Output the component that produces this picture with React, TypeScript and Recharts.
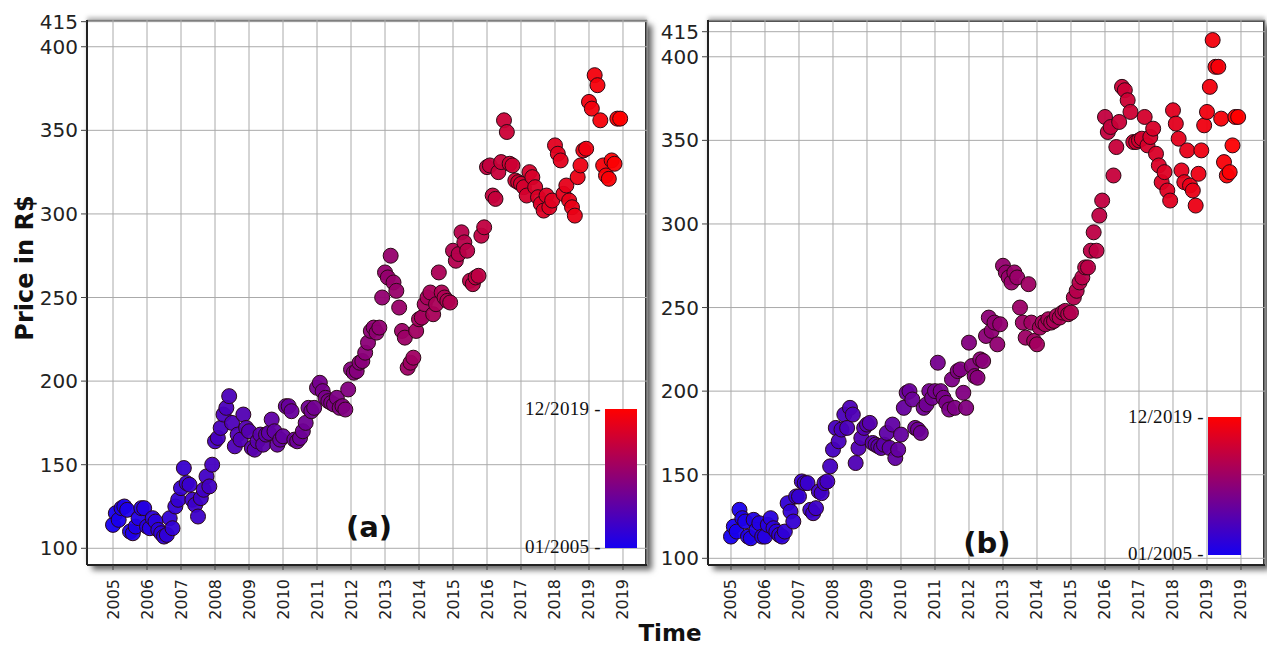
import React from "react";
import { ScatterChart, Scatter, XAxis, YAxis, CartesianGrid } from "recharts";

// Monthly prices, Jan 2005 .. Dec 2019 (one row per year)
const priceA: number[] = [
  114, 121, 117, 124, 125, 123, 110, 109, 113, 118, 124, 124,
  113, 112, 118, 116, 111, 109, 107, 108, 118, 112, 125, 129,
  136, 148, 139, 138, 129, 126, 119, 130, 135, 143, 137, 150,
  164, 166, 172, 180, 184, 191, 175, 161, 168, 165, 180, 172,
  170, 160, 159, 164, 168, 162, 168, 169, 177, 170, 162, 165,
  167, 185, 185, 182, 165, 164, 166, 170, 175, 184, 182, 184,
  196, 199, 194, 190, 188, 187, 186, 190, 184, 185, 183, 195,
  207, 205, 206, 211, 212, 217, 223, 230, 232, 229, 232, 250,
  265, 262, 275, 259, 254, 244, 230, 226, 208, 211, 214, 230,
  237, 238, 246, 250, 253, 240, 246, 265, 253, 250, 248, 247,
  278, 272, 276, 289, 283, 278, 260, 258, 262, 263, 287, 292,
  328, 329, 311, 309, 325, 331, 356, 349, 330, 329, 320, 319,
  318, 316, 311, 325, 322, 316, 310, 306, 302, 311, 304, 308,
  341, 336, 332, 312, 317, 308, 304, 299, 322, 329, 338, 339,
  367, 363, 383, 377, 356, 329, 323, 321, 332, 330, 357, 357,
];

const priceB: number[] = [
  113, 119, 116, 129, 124, 122, 113, 112, 123, 117, 121, 113,
  113, 120, 124, 118, 116, 114, 113, 116, 133, 128, 122, 137,
  137, 146, 145, 145, 129, 127, 130, 140, 139, 145, 146, 155,
  165, 178, 170, 177, 186, 178, 190, 186, 157, 166, 172, 178,
  180, 181, 169, 168, 167, 166, 168, 175, 166, 180, 160, 165,
  174, 190, 199, 200, 195, 178, 177, 175, 190, 192, 200, 196,
  200, 217, 200, 196, 193, 189, 207, 190, 212, 213, 199, 190,
  229, 215, 209, 208, 219, 218, 233, 244, 236, 241, 228, 240,
  275, 271, 268, 265, 271, 268, 250, 241, 232, 264, 241, 230,
  228, 238, 241, 240, 243, 241, 242, 245, 244, 247, 248, 246,
  247, 256, 260, 265, 268, 274, 274, 284, 295, 284, 305, 314,
  364, 355, 358, 329, 346, 361, 382, 380, 374, 367, 349, 349,
  350, 351, 364, 347, 352, 357, 342, 335, 325, 331, 320, 314,
  368, 360, 351, 332, 325, 344, 323, 320, 311, 330, 344, 359,
  367, 382, 410, 394, 394, 363, 337, 329, 331, 347, 364, 364,
];

const startYear = 2005;
const xTicks: number[] = [2005, 2006, 2007, 2008, 2009, 2010, 2011, 2012, 2013, 2014, 2015, 2016, 2017, 2018, 2019, 2020];
const xTickLabels: string[] = ["2005", "2006", "2007", "2008", "2009", "2010", "2011", "2012", "2013", "2014", "2015", "2016", "2017", "2018", "2019", "2019"];
const yTicks: number[] = [100, 150, 200, 250, 300, 350, 400, 415];
const colorbarLabels: string[] = ["12/2019 -", "01/2005 -"];

const FONT = "'DejaVu Sans', sans-serif";
const C0 = [22, 0, 240];
const C1 = [255, 0, 0];

function colorAt(t: number) {
  const c = C0.map((v, k) => Math.round(v + (C1[k] - v) * t));
  return `rgb(${c[0]},${c[1]},${c[2]})`;
}

function buildRows(prices: number[]) {
  return prices.map((p, i) => ({ t: startYear + i / 12, price: p, idx: i, n: prices.length }));
}

const rowsA = buildRows(priceA);
const rowsB = buildRows(priceB);

const Dot = (props: any) => {
  const { cx, cy, payload } = props;
  if (cx == null || cy == null) return null;
  const fill = colorAt(payload.idx / (payload.n - 1));
  return <circle cx={cx} cy={cy} r={7.5} fill={fill} fillOpacity={0.95} stroke="#2a0a14" strokeWidth={1} />;
};

const XTick = (props: any) => {
  const { x, y, payload } = props;
  const i = xTicks.indexOf(payload.value);
  return (
    <text
      x={x}
      y={y}
      transform={`rotate(-90 ${x} ${y})`}
      textAnchor="end"
      dominantBaseline="central"
      fontSize={16}
      fontFamily={FONT}
      fill="#222"
    >
      {i >= 0 ? xTickLabels[i] : ""}
    </text>
  );
};

function Panel(props: {
  rows: any[];
  width: number;
  yWidth: number;
  right: number;
  xDomain: [number, number];
  yDomain: [number, number];
}) {
  const { rows, width, yWidth, right, xDomain, yDomain } = props;
  return (
    <ScatterChart width={width} height={646} margin={{ top: 20, right, bottom: 21, left: 0 }}>
      <CartesianGrid stroke="#aaaaaa" strokeWidth={1} />
      <XAxis
        type="number"
        dataKey="t"
        domain={xDomain}
        ticks={xTicks}
        allowDataOverflow
        interval={0}
        height={60}
        tickSize={5}
        tickMargin={9}
        tick={<XTick />}
        axisLine={{ stroke: "#222", strokeWidth: 2 }}
        tickLine={{ stroke: "#444" }}
      />
      <YAxis
        type="number"
        dataKey="price"
        domain={yDomain}
        ticks={yTicks}
        allowDataOverflow
        interval={0}
        width={yWidth}
        tickSize={6}
        tickMargin={3}
        tick={{ fontSize: 20, fontFamily: FONT, fill: "#222" }}
        axisLine={{ stroke: "#222", strokeWidth: 2 }}
        tickLine={{ stroke: "#444" }}
      />
      <Scatter data={rows} isAnimationActive={false} shape={<Dot />} />
    </ScatterChart>
  );
}

const frame = (left: number, width: number): React.CSSProperties => ({
  position: "absolute",
  left,
  top: 20,
  width,
  height: 545,
  background: "#fff",
  borderTop: "2px solid #555",
  borderRight: "2px solid #333",
  boxSizing: "border-box",
  boxShadow: "5px 5px 6px rgba(0,0,0,0.6), 0 -3px 4px rgba(0,0,0,0.25)",
});

const cbLabel = (right: number, top: number): React.CSSProperties => ({
  position: "absolute",
  right: 1267 - right,
  top: top - 11,
  fontFamily: "'Liberation Serif', serif",
  fontSize: 19,
  letterSpacing: 0.3,
  color: "#111",
  whiteSpace: "nowrap",
  lineHeight: "22px",
});

export default function App() {
  return (
    <div style={{ position: "absolute", left: 0, top: 0, width: 1267, height: 646, background: "#fff", overflow: "hidden" }}>
      <div style={frame(87, 560)} />
      <div style={frame(708, 557)} />
      <div style={{ position: "absolute", left: 0, top: 0 }}>
        <Panel rows={rowsA} width={660} yWidth={87} right={13} xDomain={[2004.235, 2020.706]} yDomain={[90, 416]} />
      </div>
      <div style={{ position: "absolute", left: 640, top: 0 }}>
        <Panel rows={rowsB} width={627} yWidth={68} right={2} xDomain={[2004.324, 2020.706]} yDomain={[96, 422]} />
      </div>

      {/* colour bars */}
      <div style={{ position: "absolute", left: 605, top: 409, width: 32, height: 139, background: `linear-gradient(to top, ${colorAt(0)}, ${colorAt(0.5)}, ${colorAt(1)})` }} />
      <div style={cbLabel(601, 409)}>{colorbarLabels[0]}</div>
      <div style={cbLabel(601, 547)}>{colorbarLabels[1]}</div>
      <div style={{ position: "absolute", left: 1208, top: 417, width: 33, height: 138, background: `linear-gradient(to top, ${colorAt(0)}, ${colorAt(0.5)}, ${colorAt(1)})` }} />
      <div style={cbLabel(1204, 417)}>{colorbarLabels[0]}</div>
      <div style={cbLabel(1204, 554)}>{colorbarLabels[1]}</div>

      {/* panel tags */}
      <div style={{ position: "absolute", left: 369, top: 527, transform: "translate(-50%, -50%)", fontFamily: FONT, fontWeight: 700, fontSize: 29, color: "#111" }}>(a)</div>
      <div style={{ position: "absolute", left: 987, top: 543, transform: "translate(-50%, -50%)", fontFamily: FONT, fontWeight: 700, fontSize: 29, color: "#111" }}>(b)</div>

      {/* axis titles */}
      <div style={{ position: "absolute", left: 25, top: 268, transform: "translate(-50%, -50%) rotate(-90deg)", fontFamily: FONT, fontWeight: 700, fontSize: 24, color: "#111", whiteSpace: "nowrap" }}>Price in R$</div>
      <div style={{ position: "absolute", left: 670, top: 633, transform: "translate(-50%, -50%)", fontFamily: FONT, fontWeight: 700, fontSize: 23, color: "#111" }}>Time</div>
    </div>
  );
}
